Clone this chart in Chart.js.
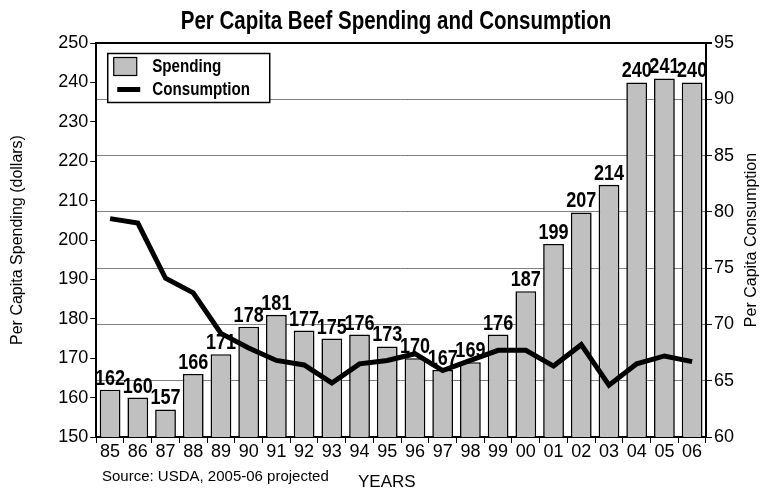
<!DOCTYPE html>
<html>
<head>
<meta charset="utf-8">
<script src="https://cdn.jsdelivr.net/npm/chart.js@4.4.1/dist/chart.umd.min.js"></script>
<style>
  html, body { margin: 0; padding: 0; background: #fff; }
  #wrap { width: 764px; height: 491px; position: relative; }
</style>
</head>
<body>
<div id="wrap"><canvas id="beefChart"></canvas></div>
<script>
const years = ['85', '86', '87', '88', '89', '90', '91', '92', '93', '94', '95',
  '96', '97', '98', '99', '00', '01', '02', '03', '04', '05', '06'];
// dollars per person
const spending = [162, 160, 157, 166, 171, 178, 181, 177, 175, 176, 173,
  170, 167, 169, 176, 187, 199, 207, 214, 240, 241, 240];
// lbs per person
const consumption = [79.4, 79.0, 74.1, 72.8, 69.2, 67.9, 66.8, 66.4, 64.8, 66.5, 66.8,
  67.4, 65.9, 66.8, 67.7, 67.7, 66.3, 68.2, 64.6, 66.5, 67.2, 66.7];
const leftTicks = [150, 250, 10];
const rightTicks = [60, 95, 5];

const FONT = 'Liberation Sans, Arial, sans-serif';
const NARROW = 0.82; // squeeze bold text to look like Arial Narrow

function narrowText(ctx, text, x, y, size, align) {
  ctx.save();
  ctx.font = 'bold ' + size + 'px ' + FONT;
  ctx.textAlign = align || 'left';
  ctx.translate(x, y);
  ctx.scale(NARROW, 1);
  ctx.fillText(text, 0, 0);
  ctx.restore();
}

// numbers above the bars, drawn before the line so it can cross them
const barLabels = {
  id: 'barLabels',
  afterDatasetDraw(chart, args) {
    if (args.index !== 0) return;
    const ctx = chart.ctx;
    ctx.save();
    ctx.fillStyle = '#000';
    ctx.textBaseline = 'alphabetic';
    args.meta.data.forEach((bar, i) => {
      narrowText(ctx, String(spending[i]), bar.x, bar.y - 5, 22, 'center');
    });
    ctx.restore();
  }
};

// title, boxed legend, right axis title, source note
const extras = {
  id: 'extras',
  afterDraw(chart) {
    const ctx = chart.ctx;
    const a = chart.chartArea;
    const ds = chart.data.datasets;
    ctx.save();
    ctx.fillStyle = '#000';
    ctx.textBaseline = 'alphabetic';
    narrowText(ctx, 'Per Capita Beef Spending and Consumption', 396, 29, 25, 'center');

    // legend frame
    const lx = a.left + 11, ly = a.top + 10;
    ctx.fillStyle = '#fff';
    ctx.fillRect(lx, ly, 162, 49);
    ctx.strokeStyle = '#000';
    ctx.lineWidth = 1.5;
    ctx.strokeRect(lx + 0.5, ly + 0.5, 162, 49);
    // bar swatch
    ctx.fillStyle = ds[0].backgroundColor;
    ctx.fillRect(lx + 6, ly + 4, 23, 18);
    ctx.lineWidth = 1.2;
    ctx.strokeRect(lx + 6.5, ly + 4.5, 23, 18);
    // line swatch
    ctx.strokeStyle = ds[1].borderColor;
    ctx.lineWidth = 5;
    ctx.beginPath();
    ctx.moveTo(lx + 10, ly + 36.5);
    ctx.lineTo(lx + 33, ly + 36.5);
    ctx.stroke();
    ctx.fillStyle = '#000';
    narrowText(ctx, ds[0].label, lx + 45, ly + 19, 18.5);
    narrowText(ctx, ds[1].label, lx + 45, ly + 42, 18.5);

    // right axis title, reading upwards like the left one
    ctx.font = '16px ' + FONT;
    ctx.textAlign = 'center';
    ctx.textBaseline = 'middle';
    ctx.save();
    ctx.translate(752, (a.top + a.bottom) / 2);
    ctx.rotate(-Math.PI / 2);
    ctx.fillText('Per Capita Consumption', 0, 0);
    ctx.restore();

    // source note and axis name
    ctx.textBaseline = 'alphabetic';
    ctx.textAlign = 'left';
    ctx.font = '15px ' + FONT;
    ctx.fillText('Source: USDA, 2005-06 projected', 102, 481);
    ctx.font = '17px ' + FONT;
    ctx.fillText('YEARS', 358, 487);
    ctx.restore();
  }
};

new Chart(document.getElementById('beefChart'), {
  data: {
    labels: years,
    datasets: [
      {
        type: 'bar',
        label: 'Spending',
        data: spending,
        yAxisID: 'y',
        backgroundColor: '#c0c0c0',
        borderColor: '#000',
        borderWidth: 1.6,
        borderSkipped: 'bottom',
        categoryPercentage: 1,
        barPercentage: 0.75,
        order: 2
      },
      {
        type: 'line',
        label: 'Consumption',
        data: consumption,
        yAxisID: 'y1',
        borderColor: '#000',
        borderWidth: 5,
        pointRadius: 0,
        tension: 0,
        order: 1
      }
    ]
  },
  options: {
    responsive: true,
    maintainAspectRatio: false,
    animation: false,
    layout: { padding: { left: 0, right: 28, top: 43, bottom: 30 } },
    plugins: {
      legend: { display: false },
      tooltip: { enabled: false },
      title: { display: false }
    },
    scales: {
      x: {
        offset: true,
        border: { color: '#000', width: 2 },
        grid: { drawOnChartArea: false, offset: true, tickLength: 6, color: '#000', lineWidth: 1 },
        ticks: { color: '#000', font: { family: FONT, size: 18, lineHeight: 1 }, padding: 0, maxRotation: 0 }
      },
      y: {
        position: 'left',
        min: leftTicks[0],
        max: leftTicks[1],
        border: { color: '#000', width: 2 },
        grid: { drawOnChartArea: false, tickLength: 6, color: '#000' },
        ticks: { stepSize: leftTicks[2], color: '#000', font: { family: FONT, size: 18 }, padding: 2 },
        title: {
          display: true, text: 'Per Capita Spending (dollars)', color: '#000',
          font: { family: FONT, size: 16 }, padding: { top: 8, bottom: 29 }
        }
      },
      y1: {
        position: 'right',
        min: rightTicks[0],
        max: rightTicks[1],
        border: { color: '#000', width: 2 },
        grid: {
          drawOnChartArea: true,
          tickLength: 6,
          tickColor: '#000',
          color: (c) => (c.tick && c.tick.value === rightTicks[1]) ? '#000' : '#808080',
          lineWidth: (c) => (c.tick && c.tick.value === rightTicks[1]) ? 2 : 1
        },
        ticks: { stepSize: rightTicks[2], color: '#000', font: { family: FONT, size: 18 }, padding: 2 }
      }
    }
  },
  plugins: [barLabels, extras]
});
</script>
</body>
</html>
